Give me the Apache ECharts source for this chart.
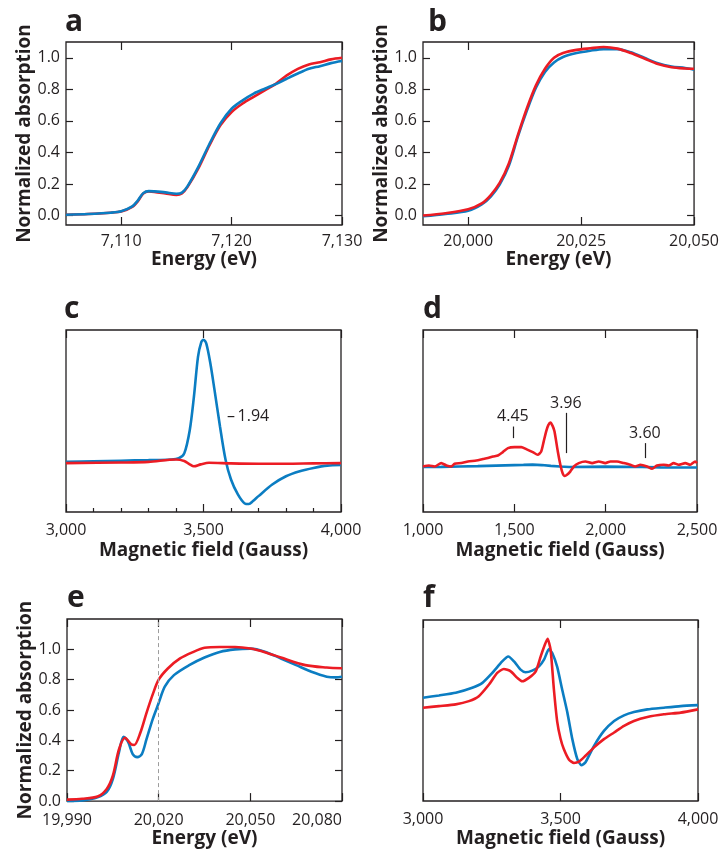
<!DOCTYPE html>
<html>
<head>
<meta charset="utf-8">
<script src="https://cdn.jsdelivr.net/npm/echarts@6/dist/echarts.min.js"></script>
<style>
  html, body { margin: 0; background: #fff; }
  #chart { width: 722px; height: 849px; }
</style>
</head>
<body>
<div id="chart"></div>
<script>
// ---- panel a : Fe K-edge XAS ----
const aRedX  = [7105, 7107, 7109, 7110, 7111, 7111.5, 7112, 7112.5, 7113, 7114, 7115, 7115.5, 7116, 7117, 7118, 7119, 7120, 7121, 7122, 7123, 7124, 7125, 7126, 7127, 7128, 7129, 7130];
const aRedY  = [0.005, 0.01, 0.018, 0.025, 0.055, 0.09, 0.14, 0.152, 0.15, 0.14, 0.13, 0.14, 0.18, 0.3, 0.446, 0.573, 0.656, 0.71, 0.752, 0.793, 0.835, 0.888, 0.93, 0.958, 0.972, 0.99, 1.0];
const aBlueY = [0.005, 0.01, 0.018, 0.027, 0.058, 0.095, 0.142, 0.155, 0.153, 0.147, 0.138, 0.145, 0.185, 0.31, 0.455, 0.585, 0.677, 0.73, 0.773, 0.804, 0.833, 0.867, 0.9, 0.93, 0.947, 0.966, 0.979];

// ---- panel b : Mo K-edge XAS ----
const bX     = [19990, 19995, 20000, 20003, 20005, 20007, 20009, 20011, 20013, 20015, 20017, 20019, 20021, 20024, 20027, 20030, 20033, 20036, 20039, 20042, 20045, 20048, 20050];
const bRedY  = [0.0, 0.015, 0.04, 0.077, 0.13, 0.208, 0.33, 0.51, 0.68, 0.825, 0.93, 1.0, 1.03, 1.05, 1.06, 1.068, 1.058, 1.03, 0.995, 0.96, 0.94, 0.932, 0.93];
const bBlueY = [-0.005, 0.01, 0.03, 0.07, 0.12, 0.198, 0.315, 0.5, 0.665, 0.81, 0.91, 0.97, 1.005, 1.03, 1.045, 1.055, 1.055, 1.035, 1.0, 0.965, 0.945, 0.935, 0.925];

// ---- panel c : EPR, 3000-4000 G ----
const cBlueX = [3000, 3100, 3200, 3300, 3380, 3410, 3430, 3450, 3465, 3480, 3492, 3500, 3510, 3525, 3540, 3560, 3580, 3600, 3625, 3650, 3665, 3680, 3700, 3750, 3800, 3850, 3900, 3950, 4000];
const cBlueY = [0, 0.005, 0.01, 0.015, 0.02, 0.03, 0.07, 0.26, 0.53, 0.86, 0.98, 1.0, 0.97, 0.805, 0.59, 0.29, 0.02, -0.144, -0.266, -0.34, -0.345, -0.32, -0.28, -0.185, -0.117, -0.076, -0.049, -0.03, -0.025];
const cRedX  = [3000, 3200, 3300, 3400, 3430, 3450, 3465, 3490, 3520, 3600, 3700, 3800, 3900, 4000];
const cRedY  = [-0.01, -0.005, 0.0, 0.02, 0.008, -0.02, -0.036, -0.02, -0.007, -0.012, -0.015, -0.015, -0.012, -0.01];

// ---- panel d : EPR, 1000-2500 G ----
const dRedX  = [1000, 1033, 1064, 1100, 1128, 1155, 1173, 1210, 1246, 1292, 1328, 1355, 1383, 1410, 1437, 1465, 1501, 1538, 1565, 1601, 1628, 1647, 1660, 1674, 1686, 1698, 1710, 1720, 1738, 1752, 1764, 1776, 1790, 1806, 1826, 1853, 1889, 1926, 1962, 1998, 2026, 2062, 2099, 2135, 2162, 2190, 2226, 2254, 2281, 2318, 2345, 2372, 2399, 2436, 2463, 2490, 2500];
const dRedY  = [0.006, 0.016, 0.006, 0.04, 0.016, 0.006, 0.033, 0.04, 0.056, 0.066, 0.08, 0.09, 0.106, 0.116, 0.15, 0.19, 0.2, 0.2, 0.18, 0.15, 0.123, 0.156, 0.25, 0.356, 0.42, 0.446, 0.41, 0.356, 0.156, 0.023, -0.06, -0.09, -0.075, -0.045, 0.006, 0.04, 0.056, 0.04, 0.056, 0.04, 0.056, 0.056, 0.04, 0.023, 0.006, 0.023, 0.006, -0.017, 0.016, 0.023, 0.016, 0.04, 0.023, 0.04, 0.023, 0.056, 0.04];
const dBlueX = [1000, 1100, 1200, 1300, 1400, 1500, 1550, 1600, 1650, 1700, 1750, 1800, 1900, 2000, 2100, 2200, 2300, 2400, 2500];
const dBlueY = [0.0, 0.002, 0.006, 0.01, 0.015, 0.02, 0.022, 0.025, 0.02, 0.012, 0.005, 0.0, 0.002, 0.004, 0.002, 0.0, -0.003, -0.004, -0.004];
const dMarks = [
  { g: '4.45', x: 1492, from: 0.29, to: 0.406, textY: 0.506 },
  { g: '3.96', x: 1782, from: 0.14, to: 0.543, textY: 0.633 },
  { g: '3.60', x: 2215, from: 0.09, to: 0.24, textY: 0.333 }
];

// ---- panel e : Mo K-edge XAS ----
const eBlueX = [19990, 19995, 20000, 20003, 20005, 20007, 20008.5, 20010, 20011.5, 20013, 20014.5, 20016, 20018, 20020, 20022, 20025, 20030, 20035, 20040, 20045, 20050, 20055, 20060, 20065, 20070, 20075, 20078, 20080];
const eBlueY = [0.0, 0.005, 0.025, 0.06, 0.145, 0.32, 0.424, 0.39, 0.31, 0.29, 0.31, 0.406, 0.537, 0.646, 0.754, 0.83, 0.896, 0.946, 0.983, 1.0, 1.005, 0.983, 0.94, 0.896, 0.852, 0.82, 0.815, 0.82];
const eRedX  = [19990, 19995, 20000, 20003, 20005, 20007, 20009, 20011, 20012, 20014, 20016, 20018, 20020, 20023, 20027, 20031, 20035, 20040, 20045, 20050, 20055, 20060, 20068, 20075, 20080];
const eRedY  = [0.01, 0.015, 0.03, 0.08, 0.167, 0.34, 0.417, 0.374, 0.37, 0.45, 0.58, 0.70, 0.80, 0.874, 0.94, 0.98, 1.01, 1.015, 1.015, 1.005, 0.98, 0.946, 0.896, 0.88, 0.875];

// ---- panel f : EPR, 3000-4000 G ----
const fBlueX = [3000, 3058, 3119, 3179, 3216, 3252, 3288, 3310, 3331, 3355, 3373, 3397, 3422, 3440, 3458, 3470, 3488, 3506, 3525, 3543, 3561, 3576, 3591, 3622, 3658, 3695, 3731, 3767, 3816, 3876, 3937, 4000];
const fBlueY = [1.04, 1.063, 1.09, 1.14, 1.19, 1.29, 1.406, 1.456, 1.406, 1.323, 1.296, 1.313, 1.356, 1.423, 1.53, 1.49, 1.35, 1.123, 0.89, 0.623, 0.423, 0.36, 0.39, 0.556, 0.706, 0.806, 0.863, 0.896, 0.923, 0.94, 0.956, 0.966];
const fRedX  = [3000, 3058, 3119, 3167, 3203, 3240, 3270, 3294, 3319, 3343, 3361, 3385, 3410, 3428, 3443, 3453, 3464, 3476, 3488, 3500, 3512, 3531, 3549, 3567, 3591, 3622, 3658, 3695, 3731, 3767, 3816, 3876, 3937, 4000];
const fRedY  = [0.94, 0.956, 0.973, 1.006, 1.056, 1.173, 1.29, 1.33, 1.306, 1.24, 1.206, 1.24, 1.306, 1.456, 1.573, 1.633, 1.523, 1.123, 0.8, 0.63, 0.523, 0.416, 0.383, 0.396, 0.456, 0.54, 0.623, 0.69, 0.756, 0.806, 0.846, 0.873, 0.89, 0.923];

// tick labels
const absTicks = [0, 0.2, 0.4, 0.6, 0.8, 1.0];
const aXTicks = [7110, 7120, 7130];
const bXTicks = [20000, 20025, 20050];
const eXTicks = [19990, 20020, 20050, 20080];
const panelLetters = ['a', 'b', 'c', 'd', 'e', 'f'];

const INK = '#231f20';
const RED = '#ec1c24';
const BLUE = '#0b7dc2';
const FONT = 'Open Sans';

const zip = (xs, ys) => xs.map((x, i) => [x, ys[i]]);
const thousands = v => String(Math.round(v)).replace(/\B(?=(\d{3})+(?!\d))/g, ',');

const grids = [
  { left: 66, top: 42, width: 276, height: 183 },
  { left: 423, top: 42, width: 275, height: 183 },
  { left: 66, top: 330, width: 275, height: 182 },
  { left: 423, top: 330, width: 274, height: 182 },
  { left: 67, top: 619, width: 275, height: 183 },
  { left: 423, top: 620, width: 275, height: 182 }
].map(g => Object.assign(g, { show: true, borderColor: INK, borderWidth: 1.3, backgroundColor: 'transparent' }));

const tickStyle = { color: INK, width: 1.2 };
const titleStyle = { color: INK, fontFamily: FONT, fontWeight: 'bold', fontSize: 19 };
const labelStyle = { color: INK, fontFamily: FONT, fontSize: 16 };
const noLine = { show: false, onZero: false };

// bottom + top axis for a grid
function xPair(i, o) {
  const tick = o.ticks ? { inside: true, length: 8, lineStyle: tickStyle, customValues: o.ticks }
                       : { inside: true, length: 8, lineStyle: tickStyle };
  const common = { gridIndex: i, type: 'value', min: o.min, max: o.max, splitLine: { show: false }, axisLine: noLine };
  if (o.interval) common.interval = o.interval;
  return [
    Object.assign({}, common, {
      position: 'bottom',
      axisTick: tick,
      minorTick: o.minor ? { show: true, splitNumber: 5, length: 4, lineStyle: tickStyle } : { show: false },
      axisLabel: Object.assign({ margin: o.margin, formatter: thousands, showMinLabel: true, showMaxLabel: true }, labelStyle,
                               o.ticks ? { customValues: o.ticks } : {}),
      name: o.name, nameLocation: 'middle', nameGap: o.gap, nameTextStyle: titleStyle
    }),
    Object.assign({}, common, { position: 'top', axisTick: tick, axisLabel: { show: false } })
  ];
}

// left + right axis
function yPair(i, o) {
  const common = { gridIndex: i, type: 'value', min: o.min, max: o.max, splitLine: { show: false }, axisLine: noLine };
  if (!o.ticks) {
    return [
      Object.assign({}, common, { position: 'left', axisTick: { show: false }, axisLabel: { show: false } }),
      Object.assign({}, common, { position: 'right', axisTick: { show: false }, axisLabel: { show: false } })
    ];
  }
  const tick = { inside: true, length: 7, lineStyle: tickStyle, customValues: o.ticks };
  return [
    Object.assign({}, common, {
      position: 'left', axisTick: tick,
      axisLabel: Object.assign({ margin: 6, customValues: o.ticks, formatter: v => v.toFixed(1) }, labelStyle),
      name: 'Normalized absorption', nameLocation: 'middle', nameGap: 30, nameTextStyle: titleStyle
    }),
    Object.assign({}, common, { position: 'right', axisTick: tick, axisLabel: { show: false } })
  ];
}

const xAxis = [].concat(
  xPair(0, { min: 7105, max: 7130, ticks: aXTicks, name: 'Energy (eV)', margin: 8, gap: 24 }),
  xPair(1, { min: 19990, max: 20050, ticks: bXTicks, name: 'Energy (eV)', margin: 8, gap: 24 }),
  xPair(2, { min: 3000, max: 4000, interval: 500, minor: true, name: 'Magnetic field (Gauss)', margin: 10, gap: 29 }),
  xPair(3, { min: 1000, max: 2500, interval: 500, name: 'Magnetic field (Gauss)', margin: 10, gap: 29 }),
  xPair(4, { min: 19990, max: 20080, ticks: eXTicks, name: 'Energy (eV)', margin: 11, gap: 24 }),
  xPair(5, { min: 3000, max: 4000, interval: 500, name: 'Magnetic field (Gauss)', margin: 10, gap: 28 })
);
xAxis[8].axisLabel.alignMaxLabel = 'right';

const yAxis = [].concat(
  yPair(0, { min: -0.06, max: 1.1, ticks: absTicks }),
  yPair(1, { min: -0.06, max: 1.1, ticks: absTicks }),
  yPair(2, { min: -0.41, max: 1.08 }),
  yPair(3, { min: -0.45, max: 1.373 }),
  yPair(4, { min: 0, max: 1.2, ticks: absTicks }),
  yPair(5, { min: 0, max: 1.823 })
);

function line(i, data, color, extra) {
  return Object.assign({
    type: 'line', xAxisIndex: 2 * i, yAxisIndex: 2 * i, data,
    showSymbol: false, smooth: 0.3, animation: false, silent: true,
    lineStyle: { color, width: 2.6 }, itemStyle: { color }
  }, extra || {});
}

const annLabel = { show: true, color: INK, fontFamily: FONT, fontSize: 16 };

const series = [
  line(0, zip(aRedX, aRedY), RED),
  line(0, zip(aRedX, aBlueY), BLUE),
  line(1, zip(bX, bBlueY), BLUE),
  line(1, zip(bX, bRedY), RED),
  line(2, zip(cBlueX, cBlueY), BLUE, {
    markPoint: {
      symbol: 'circle', symbolSize: 0, silent: true,
      label: Object.assign({ position: 'right', distance: 0, formatter: '\u2013\u20091.94' }, annLabel),
      data: [{ coord: [3585, 0.376] }]
    }
  }),
  line(2, zip(cRedX, cRedY), RED),
  line(3, zip(dBlueX, dBlueY), BLUE, { smooth: false }),
  line(3, zip(dRedX, dRedY), RED, {
    smooth: 0.2,
    markLine: {
      silent: true, symbol: 'none', label: { show: false },
      lineStyle: { color: INK, width: 1.2, type: 'solid' },
      data: dMarks.map(m => [{ coord: [m.x, m.from] }, { coord: [m.x, m.to] }])
    },
    markPoint: {
      symbol: 'circle', symbolSize: 0, silent: true,
      label: Object.assign({ position: 'inside', formatter: p => p.name }, annLabel),
      data: dMarks.map(m => ({ name: m.g, coord: [m.x, m.textY] }))
    }
  }),
  line(4, zip(eBlueX, eBlueY), BLUE, {
    markLine: {
      silent: true, symbol: 'none', label: { show: false },
      lineStyle: { color: '#9d9d9d', width: 1, type: [4, 3] },
      data: [{ xAxis: 20020 }]
    }
  }),
  line(4, zip(eRedX, eRedY), RED),
  line(5, zip(fBlueX, fBlueY), BLUE, { smooth: 0.2 }),
  line(5, zip(fRedX, fRedY), RED, { smooth: 0.2 })
];

const letterPos = [[65, 7], [428, 7], [64, 294], [423, 294], [67, 583], [423, 583]];
const graphic = panelLetters.map((t, i) => ({
  type: 'text', left: letterPos[i][0], top: letterPos[i][1], silent: true,
  style: { text: t, fill: INK, font: 'bold 30px "Open Sans"' }
}));

const chart = echarts.init(document.getElementById('chart'), null, { renderer: 'canvas' });
chart.setOption({
  animation: false,
  backgroundColor: '#fff',
  grid: grids,
  xAxis, yAxis, series, graphic
});
</script>
</body>
</html>
